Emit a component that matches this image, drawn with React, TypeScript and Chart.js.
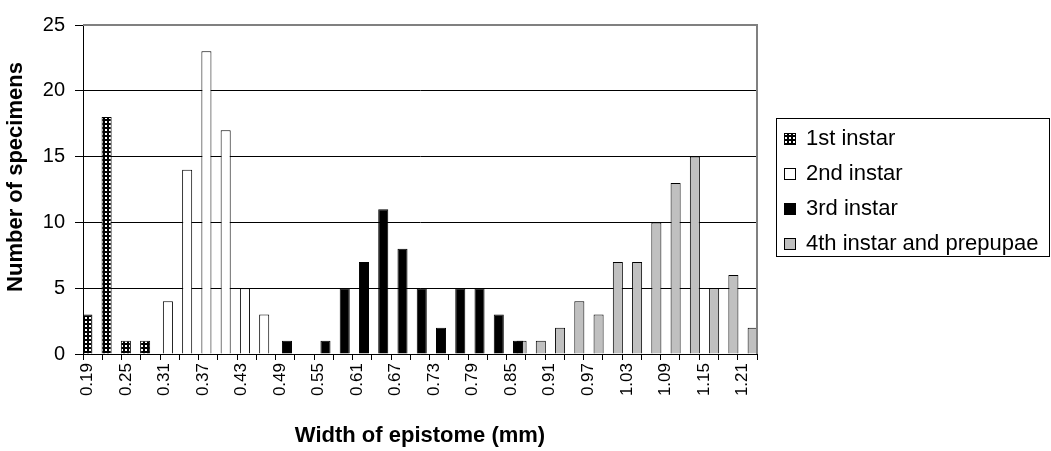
import React, { useEffect, useRef } from 'react';
import { Chart, registerables } from 'chart.js';

Chart.register(...registerables);

// Category labels (width of epistome, mm)
const categories = [
  '0.19', '0.22', '0.25', '0.28', '0.31', '0.34', '0.37', '0.40', '0.43', '0.46',
  '0.49', '0.52', '0.55', '0.58', '0.61', '0.64', '0.67', '0.70', '0.73', '0.76',
  '0.79', '0.82', '0.85', '0.88', '0.91', '0.94', '0.97', '1.00', '1.03', '1.06',
  '1.09', '1.12', '1.15', '1.18', '1.21',
];

// Tick labels that are printed on the x axis
const shownTickLabels = [
  '0.19', '0.25', '0.31', '0.37', '0.43', '0.49', '0.55', '0.61', '0.67', '0.73',
  '0.79', '0.85', '0.91', '0.97', '1.03', '1.09', '1.15', '1.21',
];

const seriesLabels = ['1st instar', '2nd instar', '3rd instar', '4th instar and prepupae'];

const instar1 = [
  3, 18, 1, 1, 0, 0, 0, 0, 0, 0,
  0, 0, 0, 0, 0, 0, 0, 0, 0, 0,
  0, 0, 0, 0, 0, 0, 0, 0, 0, 0,
  0, 0, 0, 0, 0,
];
const instar2 = [
  0, 0, 0, 0, 4, 14, 23, 17, 5, 3,
  0, 0, 0, 0, 0, 0, 0, 0, 0, 0,
  0, 0, 0, 0, 0, 0, 0, 0, 0, 0,
  0, 0, 0, 0, 0,
];
const instar3 = [
  0, 0, 0, 0, 0, 0, 0, 0, 0, 0,
  1, 0, 1, 5, 7, 11, 8, 5, 2, 5,
  5, 3, 1, 0, 0, 0, 0, 0, 0, 0,
  0, 0, 0, 0, 0,
];
const instar4 = [
  0, 0, 0, 0, 0, 0, 0, 0, 0, 0,
  0, 0, 0, 0, 0, 0, 0, 0, 0, 0,
  0, 0, 1, 1, 2, 4, 3, 7, 7, 10,
  13, 15, 5, 6, 2,
];

const yMin = 0;
const yMax = 25;
const yStep = 5;

const xTitle = 'Width of epistome (mm)';
const yTitle = 'Number of specimens';

const FONT = "'Liberation Sans', Arial, Helvetica, sans-serif";

function makePattern(): CanvasPattern | string {
  const c = document.createElement('canvas');
  c.width = 4;
  c.height = 4;
  const g = c.getContext('2d');
  if (!g) return '#000';
  g.fillStyle = '#000';
  g.fillRect(0, 0, 4, 4);
  g.fillStyle = '#fff';
  g.fillRect(1, 1, 2, 2);
  const p = g.createPattern(c, 'repeat');
  return p || '#000';
}

export default function App() {
  const canvasRef = useRef<HTMLCanvasElement | null>(null);

  useEffect(() => {
    if (!canvasRef.current) return;
    const pattern = makePattern();
    const fills: any[] = [pattern, '#ffffff', '#000000', '#c0c0c0'];
    const series = [instar1, instar2, instar3, instar4];

    const frameAndLegend = {
      id: 'frameAndLegend',
      afterDraw(chart: any) {
        const { ctx, chartArea } = chart;
        ctx.save();
        // plot area border (grey, top and right)
        ctx.fillStyle = '#808080';
        ctx.fillRect(chartArea.left, chartArea.top - 1, chartArea.right - chartArea.left + 1, 2);
        ctx.fillRect(chartArea.right - 1, chartArea.top - 1, 2, chartArea.bottom - chartArea.top + 1);

        // y-axis title
        ctx.save();
        ctx.translate(16, 177);
        ctx.rotate(-Math.PI / 2);
        ctx.font = `bold 22px ${FONT}`;
        ctx.fillStyle = '#000';
        ctx.textAlign = 'center';
        ctx.textBaseline = 'middle';
        ctx.fillText(yTitle, 0, 0);
        ctx.restore();

        // legend
        const bx = 776.5, by = 118.5, bw = 273, bh = 138;
        ctx.fillStyle = '#ffffff';
        ctx.fillRect(bx, by, bw, bh);
        ctx.strokeStyle = '#000';
        ctx.lineWidth = 1;
        ctx.strokeRect(bx, by, bw, bh);
        ctx.font = `22px ${FONT}`;
        ctx.textBaseline = 'middle';
        ctx.textAlign = 'left';
        chart.data.datasets.forEach((ds: any, i: number) => {
          const cy = 139 + i * 35;
          ctx.fillStyle = ds.backgroundColor;
          ctx.fillRect(784, cy - 6, 12, 12);
          ctx.strokeStyle = '#000';
          ctx.strokeRect(784.5, cy - 5.5, 11, 11);
          ctx.fillStyle = '#000';
          ctx.fillText(ds.label, 806, cy);
        });
        ctx.restore();
      },
    };

    const chart = new Chart(canvasRef.current, {
      type: 'bar',
      data: {
        labels: categories,
        datasets: series.map((vals, i) => ({
          label: seriesLabels[i],
          data: vals,
          backgroundColor: fills[i],
          borderColor: '#000000',
          borderWidth: 1,
          categoryPercentage: 0.73,
          barPercentage: 2.86,
        })),
      },
      options: {
        animation: false,
        responsive: true,
        maintainAspectRatio: false,
        layout: { padding: { left: 0, right: 294, top: 25, bottom: 0 } },
        plugins: {
          legend: { display: false },
          tooltip: { enabled: false },
        },
        scales: {
          x: {
            type: 'category',
            grid: {
              display: true,
              drawOnChartArea: false,
              drawTicks: true,
              tickLength: 6,
              color: '#000',
              offset: true,
            },
            border: { display: true, color: '#000', width: 1 },
            ticks: {
              autoSkip: false,
              maxRotation: 90,
              minRotation: 90,
              padding: 3,
              labelOffset: -5,
              color: '#000',
              font: { family: FONT, size: 17 },
              callback: (value: any, index: number) => {
                const lab = categories[index];
                return shownTickLabels.includes(lab) ? lab : '';
              },
            },
            title: {
              display: true,
              text: xTitle,
              color: '#000',
              font: { family: FONT, size: 22, weight: 'bold' },
              padding: { top: 0, bottom: 2 },
            },
            afterFit: (scale: any) => {
              scale.height = 97;
            },
          },
          y: {
            min: yMin,
            max: yMax,
            grid: {
              color: '#000',
              lineWidth: 1,
              drawTicks: true,
              tickLength: 8,
            },
            border: { display: true, color: '#000', width: 1 },
            ticks: {
              stepSize: yStep,
              padding: 10,
              color: '#000',
              font: { family: FONT, size: 20 },
            },
            afterFit: (scale: any) => {
              scale.width = 83;
            },
          },
        },
      },
      plugins: [frameAndLegend],
    });

    return () => chart.destroy();
  }, []);

  return (
    <div style={{ position: 'fixed', left: 0, top: 0, width: 1051, height: 451, background: '#fff' }}>
      <canvas ref={canvasRef} />
    </div>
  );
}
